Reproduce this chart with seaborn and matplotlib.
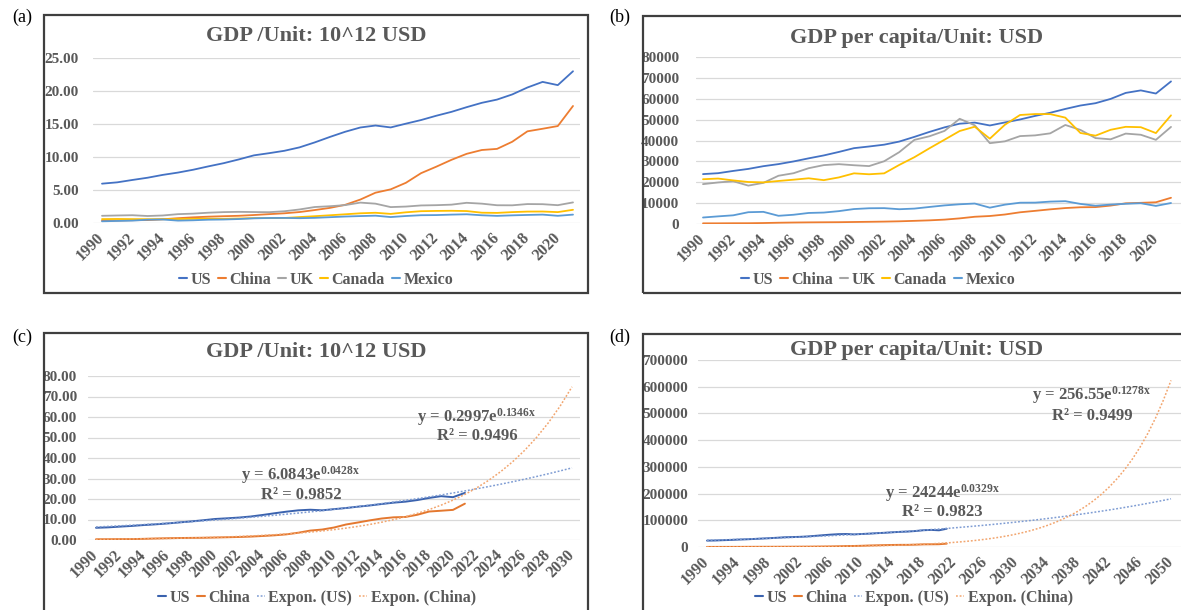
import numpy as np
import pandas as pd
import matplotlib
matplotlib.use("Agg")
import matplotlib.pyplot as plt
from matplotlib.patches import Rectangle
from matplotlib.lines import Line2D
import seaborn as sns

# ---------------------------------------------------------------- data
years = list(range(1990, 2022))
countries = ["US", "China", "UK", "Canada", "Mexico"]

# GDP, 10^12 USD
gdp_us = [5.96, 6.16, 6.52, 6.86, 7.29, 7.64, 8.07, 8.58, 9.06, 9.63, 10.25, 10.58,
          10.94, 11.46, 12.21, 13.04, 13.82, 14.47, 14.77, 14.48, 15.05, 15.60, 16.25,
          16.84, 17.55, 18.21, 18.70, 19.48, 20.53, 21.38, 20.89, 22.99]
gdp_china = [0.36, 0.38, 0.43, 0.44, 0.56, 0.73, 0.86, 0.96, 1.03, 1.09, 1.21, 1.34,
             1.47, 1.66, 1.96, 2.29, 2.75, 3.55, 4.59, 5.10, 6.09, 7.55, 8.53, 9.57,
             10.48, 11.06, 11.23, 12.31, 13.89, 14.28, 14.69, 17.73]
gdp_uk = [1.09, 1.14, 1.18, 1.06, 1.14, 1.34, 1.42, 1.56, 1.65, 1.69, 1.66, 1.64,
          1.78, 2.05, 2.42, 2.54, 2.71, 3.09, 2.93, 2.41, 2.49, 2.66, 2.70, 2.78,
          3.06, 2.93, 2.69, 2.68, 2.87, 2.85, 2.70, 3.12]
gdp_canada = [0.59, 0.61, 0.59, 0.58, 0.58, 0.60, 0.63, 0.65, 0.63, 0.68, 0.74, 0.74,
              0.76, 0.90, 1.03, 1.17, 1.32, 1.47, 1.55, 1.38, 1.62, 1.79, 1.83, 1.85,
              1.81, 1.56, 1.53, 1.65, 1.73, 1.74, 1.65, 2.00]
gdp_mexico = [0.26, 0.31, 0.36, 0.50, 0.53, 0.36, 0.41, 0.50, 0.53, 0.60, 0.71, 0.76,
              0.77, 0.73, 0.78, 0.88, 0.98, 1.05, 1.11, 0.90, 1.06, 1.18, 1.20, 1.27,
              1.32, 1.17, 1.08, 1.16, 1.22, 1.27, 1.09, 1.27]

# GDP per capita, USD
pc_us = [23900, 24340, 25420, 26390, 27700, 28690, 29970, 31460, 32850, 34520, 36330,
         37130, 38000, 39490, 41730, 44120, 46300, 48050, 48570, 47200, 48650, 50070,
         51780, 53290, 55120, 56760, 57870, 59920, 62800, 64000, 62500, 68300]
pc_china = [320, 330, 370, 380, 470, 610, 710, 780, 830, 870, 960, 1050, 1150, 1290,
            1510, 1750, 2100, 2690, 3470, 3830, 4550, 5610, 6300, 7020, 7640, 8020,
            8090, 8820, 9910, 10140, 10410, 12560]
pc_uk = [19100, 19900, 20490, 18390, 19710, 23120, 24330, 26730, 28210, 28670, 28150,
         27740, 30060, 34420, 40290, 42030, 44600, 50400, 47290, 38710, 39600, 42110,
         42450, 43430, 47440, 45070, 41150, 40570, 43310, 42750, 40320, 46510]
pc_canada = [21450, 21770, 20880, 20120, 19940, 20610, 21230, 21900, 21000, 22320,
             24270, 23820, 24260, 28300, 31990, 36270, 40390, 44540, 46600, 40880,
             47560, 52220, 52670, 52640, 50960, 43600, 42320, 45130, 46550, 46370,
             43560, 52050]
pc_mexico = [3110, 3660, 4160, 5650, 5820, 3930, 4430, 5290, 5480, 6160, 7160, 7540,
             7600, 7080, 7380, 8160, 8910, 9450, 9800, 7830, 9270, 10200, 10240, 10730,
             10930, 9620, 8750, 9290, 9690, 9950, 8660, 10050]

# exponential trend lines y = a * exp(b * x), x = 1 for 1990
gdp_trend_us = (6.0843, 0.0428, 0.9852)
gdp_trend_china = (0.2997, 0.1346, 0.9496)
pc_trend_us = (24244, 0.0329, 0.9823)
pc_trend_china = (256.55, 0.1278, 0.9499)
gdp_trend_years = list(range(1990, 2031))
pc_trend_years = list(range(1990, 2051))

# ---------------------------------------------------------------- style
sns.set_theme(style="white")
plt.rcParams["font.family"] = ["Liberation Serif", "DejaVu Serif"]
plt.rcParams["mathtext.fontset"] = "custom"
plt.rcParams["mathtext.rm"] = "Liberation Serif"
plt.rcParams["mathtext.bf"] = "Liberation Serif:bold"
plt.rcParams["mathtext.it"] = "Liberation Serif:italic"

palette = {"US": "#4472C4", "China": "#ED7D31", "UK": "#A5A5A5",
           "Canada": "#FFC000", "Mexico": "#5B9BD5"}
palette_cd = {"US": "#3A62AE", "China": "#E4782F"}
trend_colors = {"US": "#7E9CD3", "China": "#F2A56E"}
TEXT = "#595959"
GRID = "#D9D9D9"
FRAME = "#3F3F3F"

W, H = 1181, 610
fig = plt.figure(figsize=(W / 100, H / 100), dpi=100)


def fx(px):
    return px / W


def fy(py):
    return 1 - py / H


def frame(l, t, r, b, tag, tag_x, tag_y):
    fig.add_artist(Rectangle((fx(l), fy(b)), fx(r - l), (b - t) / H,
                             transform=fig.transFigure, fill=False,
                             ec=FRAME, lw=1.6, zorder=10))
    fig.text(fx(tag_x), fy(tag_y), tag, ha="center", va="center",
             fontsize=13, color="black")


def make_axes(l, r, x_ref, y_ref):
    """Axes spanning pixel columns l..r; x_ref/y_ref = ((px, value), (px, value))."""
    (xp0, xv0), (xp1, xv1) = x_ref
    (yp0, yv0), (yp1, yv1) = y_ref
    sx = (xp1 - xp0) / (xv1 - xv0)
    ax = fig.add_axes([fx(l), fy(yp0), fx(r - l), (yp0 - yp1) / H])
    ax.set_xlim(xv0 + (l - xp0) / sx, xv0 + (r - xp0) / sx)
    ax.set_ylim(yv0, yv1)
    return ax


def style_axes(ax, xticks, yticks, yfmt, ypad):
    ax.set_xticks(xticks)
    ax.set_xticklabels([str(v) for v in xticks], rotation=45, ha="right",
                       va="center", rotation_mode="anchor")
    ax.set_yticks(yticks)
    ax.set_yticklabels([yfmt(v) for v in yticks])
    for s in ax.spines.values():
        s.set_visible(False)
    ax.grid(axis="y", color=GRID, lw=0.9)
    ax.grid(axis="x", visible=False)
    ax.tick_params(axis="x", length=0, pad=9, labelsize=11.5, labelcolor=TEXT)
    ax.tick_params(axis="y", length=0, pad=ypad, labelsize=11, labelcolor=TEXT)
    for lab in ax.get_xticklabels() + ax.get_yticklabels():
        lab.set_fontweight("bold")
    ax.set_xlabel("")
    ax.set_ylabel("")
    ax.patch.set_alpha(0)


def title(x, y, txt):
    fig.text(fx(x), fy(y), txt, ha="center", va="center", fontsize=16,
             fontweight="bold", color=TEXT)


def legend(x, y, handles, labels):
    fig.legend(handles, labels, loc="center", bbox_to_anchor=(fx(x), fy(y)),
               bbox_transform=fig.transFigure, ncol=len(labels), frameon=False,
               handlelength=0.5, handletextpad=0.2, columnspacing=0.45,
               prop={"family": "Liberation Serif", "weight": "bold", "size": 11.5},
               labelcolor=TEXT)


def long_form(series, names, xs):
    return pd.DataFrame({
        "year": np.tile(xs, len(names)),
        "value": np.concatenate([np.asarray(s, float) for s in series]),
        "country": np.repeat(names, len(xs)),
    })


def trend_frame(params, xs, name):
    a, b, _ = params
    idx = np.arange(1, len(xs) + 1)
    return pd.DataFrame({"year": xs, "value": a * np.exp(b * idx), "series": name})


def equation(x, y, params, digits_a, r_y):
    a, b, r2 = params
    fig.text(fx(x), fy(y), f"y = {a:{digits_a}}e" + r"$^{\mathbf{" + f"{b:.4f}x" + r"}}$",
             ha="center", va="center", fontsize=12, fontweight="bold", color=TEXT)
    fig.text(fx(x), fy(r_y), f"R² = {r2:.4f}", ha="center", va="center",
             fontsize=12, fontweight="bold", color=TEXT)


dash_dot = (0, (1.2, 1.2))

# ---------------------------------------------------------------- (a) GDP
frame(44, 15, 588, 293, "(a)", 22, 17)
ax_a = make_axes(93, 580, ((102, 1990), (573, 2021)), ((223, 0), (58, 25)))
df_a = long_form([gdp_us, gdp_china, gdp_uk, gdp_canada, gdp_mexico], countries, years)
sns.lineplot(data=df_a, x="year", y="value", hue="country", hue_order=countries,
             palette=palette, linewidth=1.3, legend=False, ax=ax_a)
style_axes(ax_a, list(range(1990, 2021, 2)), [0, 5, 10, 15, 20, 25],
           lambda v: f"{v:.2f}", 10)
title(316, 36, "GDP /Unit: 10^12 USD")
legend(316, 280, [Line2D([], [], color=palette[c], lw=1.5) for c in countries], countries)

# ---------------------------------------------------------------- (b) GDP per capita
frame(643, 16, 1192, 293, "(b)", 620, 17)
ax_b = make_axes(696, 1190, ((703, 1990), (1171, 2021)), ((224, 0), (57, 80000)))
df_b = long_form([pc_us, pc_china, pc_uk, pc_canada, pc_mexico], countries, years)
sns.lineplot(data=df_b, x="year", y="value", hue="country", hue_order=countries,
             palette=palette, linewidth=1.3, legend=False, ax=ax_b)
style_axes(ax_b, list(range(1990, 2021, 2)), list(range(0, 80001, 10000)),
           lambda v: f"{v:d}", 12)
title(917, 38, "GDP per capita/Unit: USD")
legend(878, 280, [Line2D([], [], color=palette[c], lw=1.5) for c in countries], countries)

# ---------------------------------------------------------------- (c) GDP with trends
frame(44, 333, 588, 640, "(c)", 22, 337)
ax_c = make_axes(88, 580, ((96, 1990), (572, 2030)), ((540, 0), (376, 80)))
df_c = long_form([gdp_us, gdp_china], ["US", "China"], years)
sns.lineplot(data=df_c, x="year", y="value", hue="country", hue_order=["US", "China"],
             palette=palette_cd, linewidth=1.4, legend=False, ax=ax_c)
for name, params in (("US", gdp_trend_us), ("China", gdp_trend_china)):
    sns.lineplot(data=trend_frame(params, gdp_trend_years, name), x="year", y="value",
                 color=trend_colors[name], linewidth=1.1, linestyle=dash_dot, ax=ax_c)
style_axes(ax_c, list(range(1990, 2031, 2)), list(range(0, 81, 10)),
           lambda v: f"{v:.2f}", 8)
title(316, 352, "GDP /Unit: 10^12 USD")
equation(477, 417, gdp_trend_china, ".4f", 436)
equation(301, 475, gdp_trend_us, ".4f", 495)
legend(317, 598,
       [Line2D([], [], color=palette_cd["US"], lw=1.5),
        Line2D([], [], color=palette_cd["China"], lw=1.5),
        Line2D([], [], color=trend_colors["US"], lw=1.1, ls=dash_dot),
        Line2D([], [], color=trend_colors["China"], lw=1.1, ls=dash_dot)],
       ["US", "China", "Expon. (US)", "Expon. (China)"])

# ---------------------------------------------------------------- (d) GDP per capita with trends
frame(643, 334, 1192, 640, "(d)", 620, 337)
ax_d = make_axes(698, 1190, ((707, 1990), (1171, 2050)), ((547, 0), (360, 700000)))
df_d = long_form([pc_us, pc_china], ["US", "China"], years)
sns.lineplot(data=df_d, x="year", y="value", hue="country", hue_order=["US", "China"],
             palette=palette_cd, linewidth=1.4, legend=False, ax=ax_d)
for name, params in (("US", pc_trend_us), ("China", pc_trend_china)):
    sns.lineplot(data=trend_frame(params, pc_trend_years, name), x="year", y="value",
                 color=trend_colors[name], linewidth=1.1, linestyle=dash_dot, ax=ax_d)
style_axes(ax_d, list(range(1990, 2051, 4)), list(range(0, 700001, 100000)),
           lambda v: f"{v:d}", 7)
title(917, 350, "GDP per capita/Unit: USD")
equation(1092, 395, pc_trend_china, ".2f", 416)
equation(942, 493, pc_trend_us, ".0f", 512)
legend(914, 598,
       [Line2D([], [], color=palette_cd["US"], lw=1.5),
        Line2D([], [], color=palette_cd["China"], lw=1.5),
        Line2D([], [], color=trend_colors["US"], lw=1.1, ls=dash_dot),
        Line2D([], [], color=trend_colors["China"], lw=1.1, ls=dash_dot)],
       ["US", "China", "Expon. (US)", "Expon. (China)"])

fig.savefig("out.png", dpi=100)
